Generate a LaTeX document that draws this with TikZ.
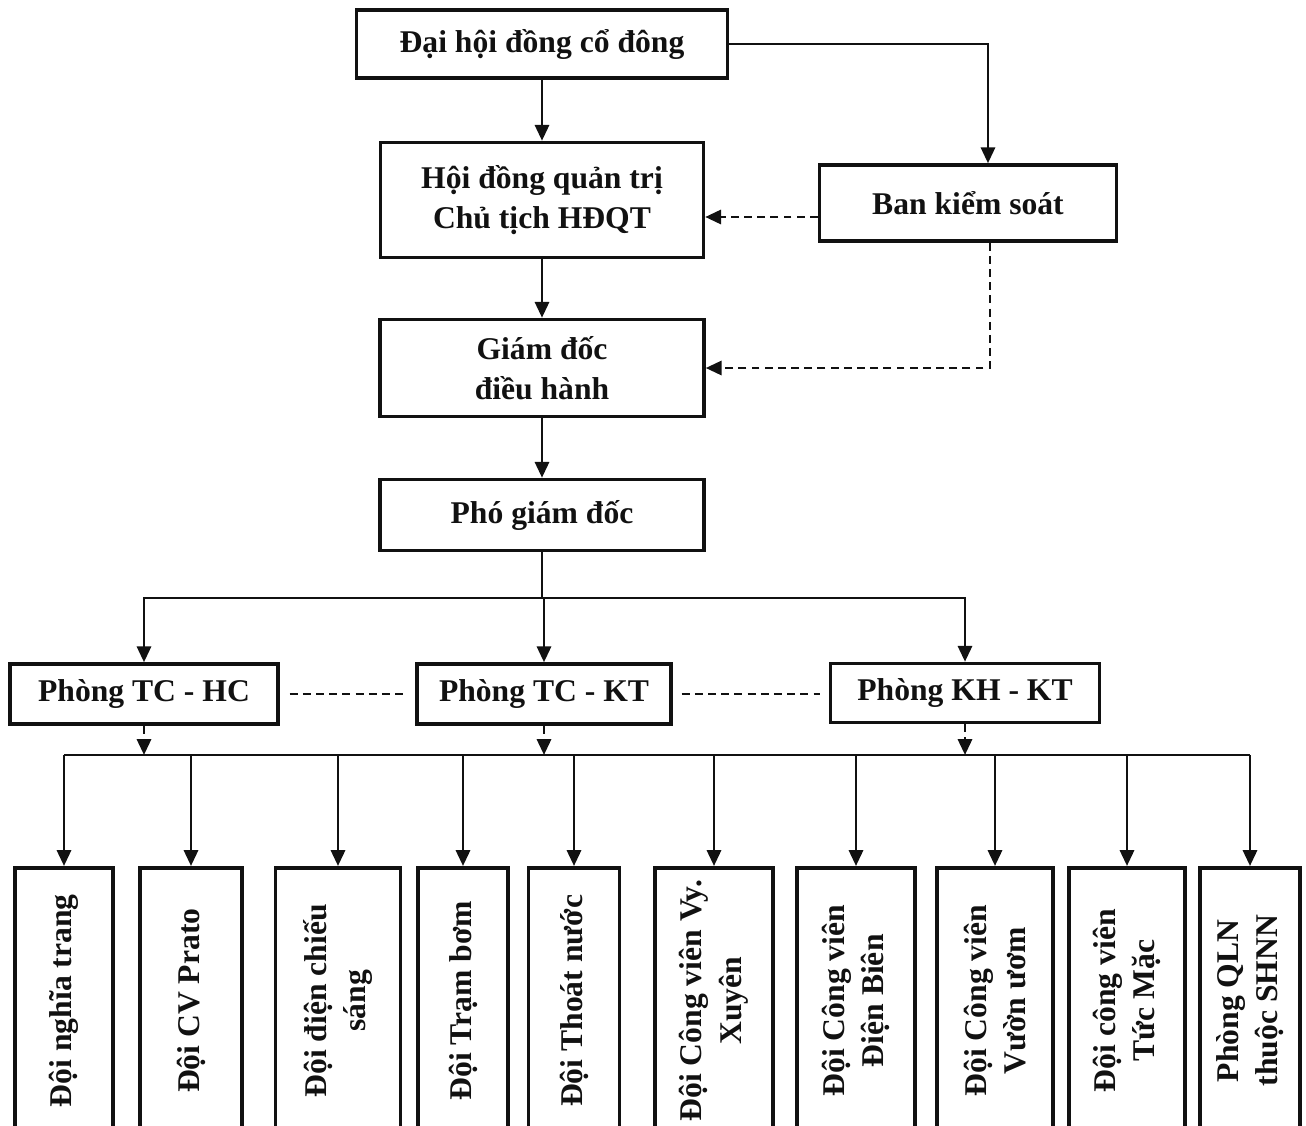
\documentclass[tikz,border=0pt]{standalone}
\usepackage{fontspec}
\setmainfont{Liberation Serif}
\usetikzlibrary{arrows.meta,positioning,calc}
\definecolor{ink}{HTML}{111111}

\tikzset{
  unit/.style={draw=ink, line width=2pt, align=center, inner sep=2pt,
    font=\fontsize{18}{22.5}\selectfont\bfseries, text=ink},
  team/.style={unit, rotate=90, anchor=east, minimum width=5.32cm, minimum height=#1},
  line/.style={draw=ink, line width=1.6pt},
  link/.style={line, -{Triangle[length=9pt,width=8pt]}},
  dline/.style={line, dash pattern=on 4.5pt off 3pt},
  dlink/.style={link, dash pattern=on 4.5pt off 3pt},
}

\begin{document}
\begin{tikzpicture}[x=0.02cm, y=-0.02cm]
\useasboundingbox (0,0) rectangle (1306,1126);

% top levels
\node[unit, minimum width=7.42cm, minimum height=1.36cm] (dhcd) at (542,44) {Đại hội đồng cổ đông};
\node[unit, minimum width=6.46cm, minimum height=2.3cm] (hdqt) at (542,200) {Hội đồng quản trị\\Chủ tịch HĐQT};
\node[unit, minimum width=5.94cm, minimum height=1.52cm] (bks) at (968,203) {Ban kiểm soát};
\node[unit, minimum width=6.48cm, minimum height=1.94cm] (gd) at (542,368) {Giám đốc\\điều hành};
\node[unit, minimum width=6.48cm, minimum height=1.42cm] (pgd) at (542,515) {Phó giám đốc};

% departments
\node[unit, minimum width=5.36cm, minimum height=1.2cm] (tchc) at (144,694) {Phòng TC - HC};
\node[unit, minimum width=5.08cm, minimum height=1.2cm] (tckt) at (544,694) {Phòng TC - KT};
\node[unit, minimum width=5.38cm, minimum height=1.18cm] (khkt) at (965,693) {Phòng KH - KT};

% teams
\node[team=1.96cm] (doi1) at (64,866) {Đội nghĩa trang};
\node[team=2.04cm] (doi2) at (191,866) {Đội CV Prato};
\node[team=2.5cm] (doi3) at (338,866) {Đội điện chiếu\\sáng};
\node[team=1.8cm] (doi4) at (463,866) {Đội Trạm bơm};
\node[team=1.82cm] (doi5) at (574,866) {Đội Thoát nước};
\node[team=2.36cm] (doi6) at (714,866) {Đội Công viên Vy.\\Xuyên};
\node[team=2.36cm] (doi7) at (856,866) {Đội Công viên\\Điện Biên};
\node[team=2.32cm] (doi8) at (995,866) {Đội Công viên\\Vườn ươm};
\node[team=2.32cm] (doi9) at (1127,866) {Đội công viên\\Tức Mặc};
\node[team=2.0cm] (doi10) at (1250,866) {Phòng QLN\\thuộc SHNN};

% connectors
\draw[link] (dhcd.south) -- (hdqt.north);
\draw[link] (dhcd.east) -| ([xshift=0.4cm]bks.north);
\draw[dlink] ([yshift=-0.28cm]bks.west) -- ([yshift=-0.28cm]bks.west -| hdqt.east);
\draw[dlink] ([xshift=0.44cm]bks.south) |- (gd.east);
\draw[link] (hdqt.south) -- (gd.north);
\draw[link] (gd.south) -- (pgd.north);

\coordinate (fork) at (542,598);
\draw[line] (pgd.south) -- (fork);
\draw[link] (fork) -| (tchc.north);
\draw[link] (fork) -- (fork -| tckt.north) -- (tckt.north);
\draw[link] (fork) -| (khkt.north);

\draw[dline, shorten <=0.2cm, shorten >=0.24cm] (tchc.east) -- (tckt.west);
\draw[dline, shorten <=0.18cm, shorten >=0.18cm] (tckt.east) -- (tckt.east -| khkt.west);

\coordinate (bus) at (0,755);
\draw[line] (doi1.east |- bus) -- (doi10.east |- bus);
\draw[dlink] (tchc.south) -- (tchc.south |- bus);
\draw[dlink] (tckt.south) -- (tckt.south |- bus);
\draw[dlink] (khkt.south) -- (khkt.south |- bus);
\foreach \i in {1,...,10}
  \draw[link] (doi\i.east |- bus) -- (doi\i.east);
\end{tikzpicture}
\end{document}
